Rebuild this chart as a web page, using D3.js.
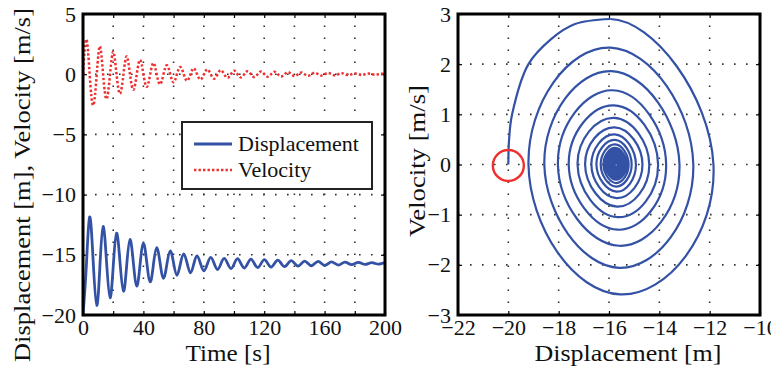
<!DOCTYPE html>
<html><head><meta charset="utf-8">
<script src="https://cdn.jsdelivr.net/npm/d3@7"></script>
<style>html,body{margin:0;padding:0;background:#fff;}</style></head>
<body>
<script>
// ---------- DATA ----------
// Quarter-period samples of the response: time [s], displacement [m], velocity [m/s]
const sampleTime = [0,2.2,4.4,6.75,9.1,11.2,13.3,15.6,17.9,20.05,22.2,24.5,26.8,28.95,31.1,33.35,35.6,37.8,40.0,42.25,44.5,46.65,48.8,51.05,53.3,55.55,57.8,60.0,62.2,64.45,66.7,68.95,71.2,73.35,75.5,77.8,80.1,82.35,84.6,86.85,89.1,91.3,93.5,95.75,98.0,100.15,102.3,104.55,106.8,109.0,111.2,113.45,115.7,117.9,120.1,122.35,124.6,126.8,129.0,131.25,133.5,135.7,137.9,140.15,142.4,144.6,146.8,149.05,151.3,153.5,155.7,157.95,160.2,162.4,164.6,166.85,169.1,171.3,173.5,175.75,178.0,180.2,182.4,184.65,186.9,189.1,191.3,193.55,195.8,198.0,200.0];
const sampleDisp = [-20.0,-15.95,-11.85,-15.55,-19.2,-15.95,-12.65,-15.6,-18.57,-15.9,
 -13.2,-15.6,-18.03,-15.85,-13.73,-15.65,-17.6,-15.8,-14.05,-15.65,
 -17.25,-15.8,-14.4,-15.68,-16.95,-15.78,-14.67,-15.7,-16.7,-15.78,
 -14.93,-15.7,-16.5,-15.77,-15.1,-15.72,-16.33,-15.76,-15.22,-15.72,
 -16.22,-15.75,-15.3,-15.72,-16.14,-15.74,-15.32,-15.72,-16.10,-15.74,
 -15.36,-15.72,-16.06,-15.73,-15.40,-15.72,-16.02,-15.73,-15.44,-15.72,
 -15.98,-15.73,-15.48,-15.72,-15.94,-15.73,-15.52,-15.72,-15.91,-15.73,
 -15.55,-15.72,-15.88,-15.73,-15.58,-15.72,-15.85,-15.73,-15.61,-15.72,
 -15.82,-15.72,-15.63,-15.72,-15.80,-15.72,-15.65,-15.72,-15.78,-15.72,
 -15.67];
const sampleVel = [0,2.90,0,-2.59,0,2.33,0,-2.06,0,1.86,
 0,-1.62,0,1.48,0,-1.30,0,1.18,0,-1.05,
 0,0.93,0,-0.84,0,0.74,0,-0.67,0,0.60,
 0,-0.54,0,0.49,0,-0.44,0,0.40,0,-0.37,
 0,0.33,0,-0.30,0,0.29,0,-0.27,0,0.25,
 0,-0.24,0,0.225,0,-0.21,0,0.20,0,-0.185,
 0,0.17,0,-0.155,0,0.145,0,-0.135,0,0.125,
 0,-0.115,0,0.105,0,-0.095,0,0.085,0,-0.075,
 0,0.065,0,-0.06,0,0.05,0,-0.045,0,0.04,
 0];
// first quarter of the phase trajectory (start -> first velocity peak)
const startArcDisp = [-20.0,-19.97,-19.85,-19.2,-18.3,-17.35,-15.95];
const startArcVel  = [0,0.5,1.0,2.0,2.5,2.8,2.90];
const startPoint = [-20, 0];

const leftXTicks = [0,20,40,60,80,100,120,140,160,180,200];
const leftXLabels = [0,40,80,120,160,200];
const leftYTicks = [-20,-15,-10,-5,0,5];
const rightXTicks = [-22,-20,-18,-16,-14,-12,-10];
const rightYTicks = [-3,-2,-1,0,1,2,3];
const legendNames = ["Displacement","Velocity"];

// ---------- STYLE ----------
const BLUE = "#3452a5", RED = "#ee3030";
const FONT = "'Liberation Serif'";
const W = 771, H = 369;

const svg = d3.select("body").append("svg").attr("width", W).attr("height", H);

const xL = d3.scaleLinear([0, 200], [83, 385]);
const yL = d3.scaleLinear([-20, 5], [315, 14]);
const xR = d3.scaleLinear([-22, -10], [458, 760]);
const yR = d3.scaleLinear([-3, 3], [315, 14]);

const fmt = d => d3.format("")(d);

function panel(id, x, y, xTicks, yTicks, xLabelSet) {
  const [x0, x1] = x.range(), [y0, y1] = y.range();
  svg.append("clipPath").attr("id", id).append("rect")
    .attr("x", x0).attr("y", y1).attr("width", x1 - x0).attr("height", y0 - y1);
  const grid = svg.append("g").attr("stroke", "#333").attr("stroke-width", 1.6)
    .attr("stroke-dasharray", "1.6 10.4");
  grid.selectAll(".gv").data(xTicks.slice(1, -1)).join("line")
    .attr("x1", d => x(d)).attr("x2", d => x(d)).attr("y1", y0).attr("y2", y1);
  grid.selectAll(".gh").data(yTicks.slice(1, -1)).join("line")
    .attr("y1", d => y(d)).attr("y2", d => y(d)).attr("x1", x0).attr("x2", x1);
  const ax = svg.append("g");
  ax.append("g").attr("transform", `translate(0,${y0})`)
    .call(d3.axisBottom(x).tickValues(xTicks).tickSize(-4).tickPadding(4)
      .tickFormat(d => (xLabelSet ? (xLabelSet.includes(d) ? fmt(d) : "") : fmt(d))));
  ax.append("g").attr("transform", `translate(${x0},0)`)
    .call(d3.axisLeft(y).tickValues(yTicks).tickSize(-4).tickPadding(7).tickFormat(fmt));
  ax.append("g").attr("transform", `translate(0,${y1})`)
    .call(d3.axisTop(x).tickValues(xTicks).tickSize(-4).tickFormat(""));
  ax.append("g").attr("transform", `translate(${x1},0)`)
    .call(d3.axisRight(y).tickValues(yTicks).tickSize(-4).tickFormat(""));
  ax.selectAll(".domain").remove();
  ax.selectAll("g").attr("font-family", FONT);
  ax.selectAll(".tick line").attr("stroke", "#000").attr("stroke-width", 1.2);
  ax.selectAll("text").attr("font-family", FONT).attr("font-size", 22).attr("fill", "#111");
}

// ---------- LEFT PANEL ----------
panel("clipL", xL, yL, leftXTicks, leftYTicks, leftXLabels);
const lineL = (arr) => d3.line().x((d, i) => xL(sampleTime[i])).y(d => yL(d)).curve(d3.curveNatural)(arr);
svg.append("path").attr("clip-path", "url(#clipL)").attr("d", lineL(sampleDisp))
  .attr("fill", "none").attr("stroke", BLUE).attr("stroke-width", 2.8).attr("stroke-linejoin", "round");
svg.append("path").attr("clip-path", "url(#clipL)").attr("d", lineL(sampleVel))
  .attr("fill", "none").attr("stroke", RED).attr("stroke-width", 2.5).attr("stroke-dasharray", "2.4 2.1");

// ---------- RIGHT PANEL ----------
panel("clipR", xR, yR, rightXTicks, rightYTicks, null);
// spiral after the first quarter: natural spline through all samples, first segment dropped
const phaseD = d3.line().x((d, i) => xR(sampleDisp[i])).y((d, i) => yR(sampleVel[i]))
  .curve(d3.curveNatural)(sampleDisp);
let spiralD = phaseD;
const segs = phaseD.split("C");
if (segs.length > 2) {
  const nums = segs[1].split(/[ ,]+/).filter(s => s.length);
  spiralD = "M" + nums[4] + "," + nums[5] + segs.slice(2).map(s => "C" + s).join("");
}
svg.append("path").attr("clip-path", "url(#clipR)").attr("d", spiralD)
  .attr("fill", "none").attr("stroke", BLUE).attr("stroke-width", 2.2).attr("stroke-linejoin", "round");
// first quarter (start -> top)
svg.append("path").attr("clip-path", "url(#clipR)")
  .attr("d", d3.line().x((d, i) => xR(startArcDisp[i])).y((d, i) => yR(startArcVel[i]))
    .curve(d3.curveCatmullRom.alpha(0.5))(startArcDisp))
  .attr("fill", "none").attr("stroke", BLUE).attr("stroke-width", 2.2).attr("stroke-linejoin", "round");
svg.append("circle").attr("cx", xR(startPoint[0])).attr("cy", yR(startPoint[1]) + 1).attr("r", 15.5)
  .attr("fill", "none").attr("stroke", RED).attr("stroke-width", 2.4);

// frames
[[xL, yL], [xR, yR]].forEach(([x, y]) => {
  const [x0, x1] = x.range(), [y0, y1] = y.range();
  svg.append("rect").attr("x", x0).attr("y", y1).attr("width", x1 - x0).attr("height", y0 - y1)
    .attr("fill", "none").attr("stroke", "#000").attr("stroke-width", 3);
});

// ---------- LEGEND ----------
const lg = svg.append("g");
lg.append("rect").attr("x", 182).attr("y", 122).attr("width", 190).attr("height", 67)
  .attr("fill", "#fff").attr("stroke", "#222").attr("stroke-width", 2);
const legendY = [144, 170];
legendNames.forEach((name, i) => {
  lg.append("line").attr("x1", 194).attr("x2", 232).attr("y1", legendY[i]).attr("y2", legendY[i])
    .attr("stroke", i === 0 ? BLUE : RED).attr("stroke-width", i === 0 ? 2.8 : 2.5)
    .attr("stroke-dasharray", i === 0 ? null : "2.4 2.1");
  lg.append("text").attr("x", 238).attr("y", legendY[i] + 7).attr("font-family", FONT)
    .attr("font-size", 22).attr("fill", "#111").text(name);
});

// ---------- AXIS LABELS ----------
const label = (sel) => sel.attr("font-family", FONT).attr("font-size", 23).attr("fill", "#111")
  .attr("text-anchor", "middle").attr("lengthAdjust", "spacingAndGlyphs");
svg.append("text").call(label).attr("x", 228).attr("y", 361).attr("textLength", 85).text("Time [s]");
svg.append("text").call(label).attr("x", 628).attr("y", 361).attr("textLength", 187).text("Displacement [m]");
svg.append("text").call(label).attr("transform", "translate(30,185) rotate(-90)")
  .attr("textLength", 354).text("Displacement [m], Velocity [m/s]");
svg.append("text").call(label).attr("transform", "translate(425,161) rotate(-90)")
  .attr("textLength", 152).text("Velocity [m/s]");
</script>
</body></html>
